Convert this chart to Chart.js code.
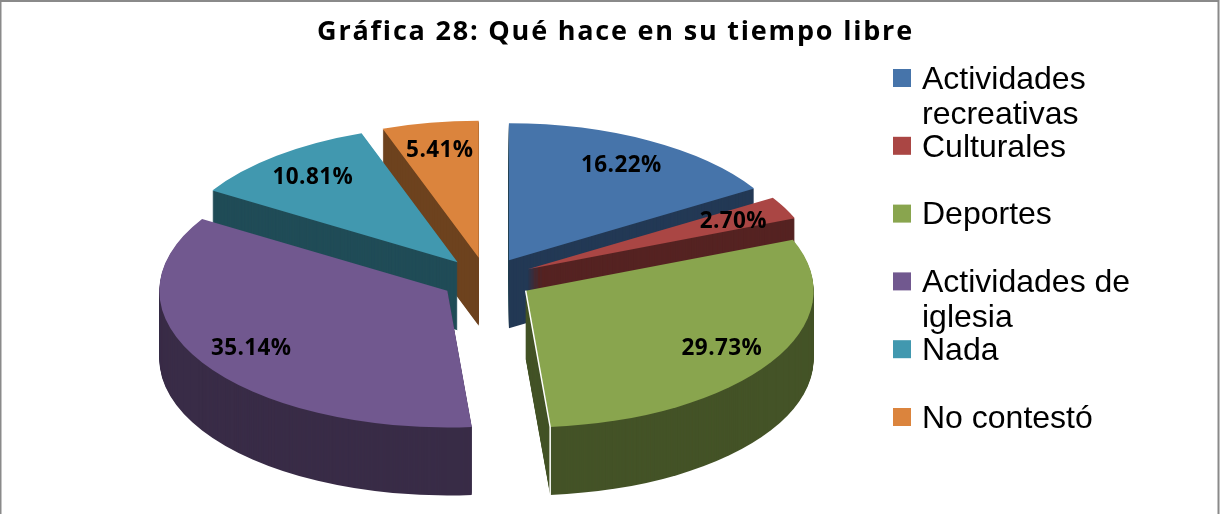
<!DOCTYPE html>
<html><head><meta charset="utf-8">
<style>html,body{margin:0;padding:0;background:#fff;overflow:hidden}canvas{display:block}</style>
<script src="https://cdn.jsdelivr.net/npm/chart.js@4"></script>
</head><body><canvas id="c" width="1220" height="514"></canvas>
<script>
const titleText = 'Gráfica 28: Qué hace en su tiempo libre';
const categories = ['Actividades recreativas','Culturales','Deportes','Actividades de iglesia','Nada','No contestó'];
const legendLines = [['Actividades','recreativas'],['Culturales'],['Deportes'],['Actividades de','iglesia'],['Nada'],['No contestó']];
const values = [16.22,2.70,29.73,35.14,10.81,5.41];
const topColors = ['#4674aa','#aa4644','#89a54e','#71588f','#4198af','#db843d'];
const wallColors = ['#233955','#552322','#445327','#392c47','#204c57','#6d421e'];
const drawOrder = [5,0,4,1,3,2];
const TILT = 0.475, DEPTH = 68, EXPLODE = 46, RADIUS = 288, SHIFT_X = -129;

function originOf(el){
  const mid = (el.startAngle + el.endAngle) / 2;
  return {x: el.x + SHIFT_X + Math.cos(mid)*EXPLODE, y: el.y + Math.sin(mid)*EXPLODE*TILT};
}
function paint(ctx, el, color, d){
  const view = Object.create(el), o = originOf(el);
  view.options = {backgroundColor:color,borderColor:color,borderWidth:0,offset:0,spacing:0,borderAlign:'center',borderRadius:0,circular:true,borderJoinStyle:'round'};
  ctx.save();
  ctx.translate(o.x, o.y + d);
  ctx.scale(1, TILT);
  ctx.translate(-el.x, -el.y);
  view.draw(ctx);
  ctx.restore();
}
function edgeHighlight(ctx, el){
  const o = originOf(el);
  const rimX = o.x + Math.cos(el.endAngle)*RADIUS, rimY = o.y + Math.sin(el.endAngle)*RADIUS*TILT;
  ctx.save();
  ctx.strokeStyle='#fff'; ctx.lineWidth=1.5;
  ctx.beginPath(); ctx.moveTo(o.x,o.y); ctx.lineTo(rimX,rimY); ctx.lineTo(rimX,rimY+DEPTH); ctx.stroke();
  ctx.restore();
}
const pie3d = {
  id:'pie3d',
  beforeDraw(chart){ chart.ctx.letterSpacing = '1.8px'; },
  beforeDatasetsDraw(chart){ chart.ctx.letterSpacing = '0px'; },
  beforeDatasetDraw(chart){
    const ctx = chart.ctx, arcs = chart.getDatasetMeta(0).data;
    drawOrder.forEach(i=>{
      for(let d=DEPTH;d>=1;d--) paint(ctx, arcs[i], wallColors[i], d);
      paint(ctx, arcs[i], topColors[i], 0);
      if(i===2) edgeHighlight(ctx, arcs[i]);
    });
    return false;
  },
  afterDraw(chart){
    const ctx = chart.ctx, arcs = chart.getDatasetMeta(0).data;
    ctx.save();
    ctx.fillStyle='#000'; ctx.font='bold 22.5px "Open Sans"'; ctx.textAlign='center'; ctx.textBaseline='middle';
    ctx.letterSpacing='0.4px';
    arcs.forEach((el,i)=>{
      const mid=(el.startAngle+el.endAngle)/2, r=RADIUS*0.8+EXPLODE;
      ctx.fillText(values[i].toFixed(2)+'%', el.x+SHIFT_X+Math.cos(mid)*r, el.y+Math.sin(mid)*r*TILT+1);
    });
    ctx.letterSpacing='0px';
    ctx.font='32px "Liberation Sans"'; ctx.textAlign='left';
    legendLines.forEach((lines,i)=>{
      const y=78+i*67.8;
      ctx.fillStyle=topColors[i]; ctx.fillRect(893,y-9,18,18);
      ctx.fillStyle='#000';
      lines.forEach((t,j)=>ctx.fillText(t,922,y+j*35+2));
    });
    ctx.strokeStyle='#8a8a8a'; ctx.lineWidth=2;
    ctx.beginPath(); ctx.moveTo(0.5,514); ctx.lineTo(0.5,1); ctx.lineTo(1218.5,1); ctx.lineTo(1218.5,514); ctx.stroke();
    ctx.restore();
  }
};
new Chart(document.getElementById('c'),{
  type:'pie',
  data:{labels:categories,datasets:[{data:values,backgroundColor:topColors,borderWidth:0,radius:RADIUS}]},
  options:{responsive:false,animation:false,
    layout:{padding:{left:11,bottom:16}},
    plugins:{legend:{display:false},tooltip:{enabled:false},
      title:{display:true,text:titleText,color:'#000',font:{family:'"Open Sans"',weight:'bold',size:27,lineHeight:1.2},padding:{top:16,bottom:12}}}},
  plugins:[pie3d]
});
</script></body></html>
